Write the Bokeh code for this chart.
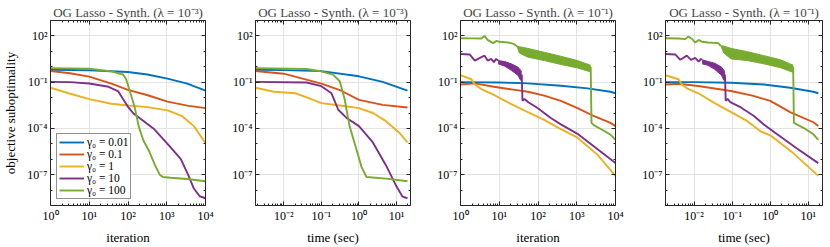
import numpy as np
from bokeh.plotting import figure
from bokeh.layouts import row
from bokeh.models import FixedTicker, LogAxis, CustomJSTickFormatter, Legend, LegendItem
from bokeh.embed import file_html
from bokeh.resources import INLINE

# ---------------- data (log10 of x and of objective suboptimality) ----------------
gamma_labels = ["γ₀ = 0.01", "γ₀ = 0.1", "γ₀ = 1", "γ₀ = 10", "γ₀ = 100"]
colors = ["#0072BD", "#D95319", "#EDB120", "#7E2F8E", "#77AC30"]

titles = ["OG Lasso - Synth. (λ = 10⁻³)", "OG Lasso - Synth. (λ = 10⁻³)",
          "OG Lasso - Synth. (λ = 10⁻¹)", "OG Lasso - Synth. (λ = 10⁻¹)"]
xlabels = ["iteration", "time (sec)", "iteration", "time (sec)"]

# Panel 1: iteration, lambda = 1e-3
p1_blue_lx = [0, 1, 2, 2.5, 3.02, 3.53, 4.0]
p1_blue_ly = [-0.19, -0.23, -0.34, -0.5, -0.77, -1.09, -1.55]
p1_red_lx = [0, 0.5, 1.0, 1.57, 2.0, 2.51, 3.02, 3.53, 4.0]
p1_red_ly = [-0.28, -0.42, -0.64, -1.1, -1.5, -1.85, -2.26, -2.52, -2.68]
p1_orange_lx = [0, 0.47, 1.0, 1.57, 2.0, 2.51, 3.02, 3.4, 3.7, 4.0]
p1_orange_ly = [-1.36, -1.72, -2.1, -2.4, -2.51, -2.62, -2.83, -3.21, -3.85, -4.96]
p1_purple_lx = [0, 0.5, 1.0, 1.5, 1.75, 1.9, 2.0, 2.15, 2.34, 2.68, 3.02, 3.36, 3.55, 3.7, 3.85, 4.0]
p1_purple_ly = [-0.98, -1.0, -1.09, -1.3, -1.6, -2.2, -2.6, -3.05, -3.4, -4.06, -5.0, -5.98, -7.0, -7.9, -8.4, -8.53]
p1_green_lx = [0, 1.0, 1.57, 1.87, 1.95, 2.05, 2.17, 2.28, 2.4, 2.55, 2.7, 2.82, 2.9, 3.1, 3.53, 4.0]
p1_green_ly = [-0.09, -0.13, -0.3, -0.5, -0.8, -1.6, -2.6, -3.9, -4.8, -5.5, -6.4, -7.0, -7.15, -7.2, -7.28, -7.43]

# Panel 2: time, lambda = 1e-3
p2_blue_lx = [-2.75, -2, -1, 0, 0.63, 1.29]
p2_blue_ly = [-0.19, -0.22, -0.28, -0.62, -0.98, -1.55]
p2_red_lx = [-2.75, -2, -1, -0.51, 0, 0.63, 1.29]
p2_red_ly = [-0.28, -0.45, -1.09, -1.51, -2.15, -2.47, -2.64]
p2_orange_lx = [-2.75, -2.26, -1.69, -1.39, -1, -0.51, 0, 0.37, 0.72, 1.07, 1.29]
p2_orange_ly = [-1.36, -1.62, -1.72, -1.98, -2.36, -2.51, -2.68, -3.0, -3.53, -4.28, -4.91]
p2_purple_lx = [-2.75, -1.39, -1, -0.73, -0.55, -0.33, 0, 0.37, 0.72, 0.98, 1.16, 1.29]
p2_purple_ly = [-0.98, -1.02, -1.26, -1.72, -2.79, -3.32, -3.85, -4.91, -6.4, -7.68, -8.43, -8.53]
p2_green_lx = [-2.75, -1.39, -1, -0.69, -0.51, -0.38, -0.25, -0.07, 0.07, 0.2, 0.72, 1.29]
p2_green_ly = [-0.09, -0.15, -0.3, -0.51, -0.94, -2.11, -3.85, -5.34, -6.51, -7.15, -7.26, -7.43]

# Panel 3: iteration, lambda = 1e-1
p3_blue_lx = [0, 1, 1.74, 2.59, 3.28, 3.87, 4.0]
p3_blue_ly = [-1.0, -1.02, -1.08, -1.23, -1.40, -1.62, -1.72]
p3_red_lx = [0, 0.37, 0.86, 1.74, 2.16, 2.59, 3.02, 3.45, 3.87, 4.0]
p3_red_ly = [-1.15, -1.08, -1.3, -1.62, -1.87, -2.21, -2.68, -3.21, -3.64, -3.85]
p3_orange_lx = [0, 0.28, 0.37, 0.54, 0.86, 1.31, 1.74, 2.16, 2.55, 3.02, 3.53, 4.0]
p3_orange_ly = [-0.55, -0.81, -1.15, -1.45, -1.83, -2.42, -2.95, -3.45, -4.0, -4.6, -5.7, -7.08]
p3_purple_pre_lx = [0, 0.24, 0.37, 0.5, 0.62, 0.7, 0.79, 0.86, 0.92, 0.97]
p3_purple_pre_ly = [0.83, 0.79, 0.40, 0.57, 0.72, 0.40, 0.51, 0.30, 0.51, 0.40]
p3_purple_band_lx = [0.97, 1.14, 1.31, 1.48, 1.55, 1.58]
p3_purple_band_hi = [0.40, 0.34, 0.19, -0.02, -0.23, -0.3]
p3_purple_band_lo = [0.19, 0.04, -0.23, -0.55, -0.87, -0.87]
p3_purple_post_lx = [1.58, 1.6, 1.65, 1.75, 1.99, 2.33, 2.59, 3.02, 3.53, 4.0]
p3_purple_post_ly = [-0.5, -2.21, -2.09, -2.3, -2.68, -3.32, -3.74, -4.35, -5.34, -6.25]
p3_green_pre_lx = [0, 0.3, 0.54, 0.62, 0.7, 0.84, 0.93, 1.0, 1.22, 1.3, 1.38, 1.46]
p3_green_pre_ly = [1.85, 1.84, 1.83, 2.0, 1.74, 1.53, 1.68, 1.62, 1.57, 1.53, 1.47, 1.32]
p3_green_band_lx = [1.46, 1.52, 1.74, 2.16, 2.59, 3.02, 3.32, 3.36]
p3_green_band_hi = [1.32, 1.3, 1.19, 0.94, 0.68, 0.40, 0.13, 0.1]
p3_green_band_lo = [1.32, 0.89, 0.62, 0.40, 0.15, -0.08, -0.30, -0.3]
p3_green_post_lx = [3.36, 3.38, 3.45, 3.7, 3.87, 4.0]
p3_green_post_ly = [0.0, -3.64, -3.8, -4.15, -4.4, -4.74]

# Panel 4: time, lambda = 1e-1
p4_blue_lx = [-2.75, -2, -1.03, -0.17, 0.52, 1.13, 1.26]
p4_blue_ly = [-1.0, -1.0, -1.04, -1.15, -1.36, -1.62, -1.72]
p4_red_lx = [-2.75, -2.41, -1.89, -1.03, -0.47, 0, 0.52, 1.13, 1.26]
p4_red_ly = [-1.15, -1.1, -1.25, -1.57, -1.87, -2.21, -2.94, -3.6, -3.85]
p4_orange_lx = [-2.75, -2.41, -2.32, -2.19, -1.89, -1.46, -1.03, -0.6, -0.25, 0.0, 0.6, 1.26]
p4_orange_ly = [-0.55, -0.81, -1.15, -1.4, -1.72, -2.36, -2.94, -3.53, -4.2, -4.45, -5.6, -7.08]
p4_purple_pre_lx = [-2.75, -2.49, -2.36, -2.19, -2.08, -1.97, -1.88, -1.82, -1.79]
p4_purple_pre_ly = [0.83, 0.79, 0.45, 0.72, 0.45, 0.57, 0.34, 0.51, 0.45]
p4_purple_band_lx = [-1.79, -1.63, -1.46, -1.28, -1.22, -1.19]
p4_purple_band_hi = [0.45, 0.34, 0.23, -0.02, -0.23, -0.3]
p4_purple_band_lo = [0.19, 0.09, -0.17, -0.55, -0.87, -0.87]
p4_purple_post_lx = [-1.19, -1.17, -1.12, -1.05, -0.77, -0.42, -0.17, 0.18, 0.7, 1.26]
p4_purple_post_ly = [-0.5, -2.21, -2.09, -2.3, -2.64, -3.21, -3.74, -4.38, -5.3, -6.25]
p4_green_pre_lx = [-2.75, -2.4, -2.23, -2.15, -2.05, -1.97, -1.88, -1.8, -1.63, -1.37, -1.3]
p4_green_pre_ly = [1.85, 1.83, 1.79, 1.96, 1.8, 1.57, 1.74, 1.62, 1.57, 1.53, 1.36]
p4_green_band_lx = [-1.3, -1.22, -1.03, -0.6, -0.17, 0.27, 0.57, 0.6]
p4_green_band_hi = [1.36, 1.34, 1.19, 0.98, 0.72, 0.45, 0.13, 0.1]
p4_green_band_lo = [1.36, 0.89, 0.51, 0.40, 0.19, -0.06, -0.34, -0.34]
p4_green_post_lx = [0.6, 0.62, 0.87, 1.13, 1.26]
p4_green_post_ly = [0.0, -3.64, -3.96, -4.38, -4.74]

# axis tick positions
y_major_exp = [2, -1, -4, -7]
iter_major_exp = [0, 1, 2, 3, 4]
time_major_exp = [-2, -1, 0, 1]

# ---------------- helpers ----------------
def P(a):
    return np.power(10.0, np.asarray(a, dtype=float))

FONT = '"Liberation Serif", "Times New Roman", serif'
AXIS_COLOR = "#262626"
GRID_COLOR = "#e3e3e3"

sup_fmt = CustomJSTickFormatter(code="""
const sup = {"-":"\u207b","0":"\u2070","1":"\u00b9","2":"\u00b2","3":"\u00b3","4":"\u2074",
             "5":"\u2075","6":"\u2076","7":"\u2077","8":"\u2078","9":"\u2079"};
const e = Math.round(Math.log10(tick));
return "10" + String(e).split("").map(c => sup[c]).join("");
""")
blank_fmt = CustomJSTickFormatter(code="return '';")

def minor_ticks(d0, d1):
    return [k * 10.0 ** d for d in range(d0, d1) for k in range(2, 10)]

def style_axis(ax, labels=True):
    ax.axis_line_color = AXIS_COLOR
    ax.major_tick_line_color = AXIS_COLOR
    ax.minor_tick_line_color = AXIS_COLOR
    ax.major_tick_in = 4
    ax.major_tick_out = 0
    ax.minor_tick_in = 2
    ax.minor_tick_out = 0
    ax.major_label_text_font = FONT
    ax.major_label_text_font_size = "12px"
    ax.major_label_text_color = "black"
    ax.major_label_standoff = 3
    ax.axis_label_text_font = FONT
    ax.axis_label_text_font_size = "13px"
    ax.axis_label_text_font_style = "normal"
    ax.axis_label_text_color = "black"
    ax.axis_label_standoff = 4
    if not labels:
        ax.formatter = blank_fmt

def make_fig(idx, width, bl, br, x_range, xmaj, xmin, ylabel=None):
    p = figure(width=width, height=247, x_axis_type="log", y_axis_type="log",
               x_range=x_range, y_range=(1e-9, 1e3),
               output_backend="svg", toolbar_location=None,
               min_border_left=bl, min_border_right=br,
               min_border_top=20, min_border_bottom=40)
    p.title.text = titles[idx]
    p.title.text_font = FONT
    p.title.text_font_size = "13px"
    p.title.text_font_style = "normal"
    p.title.align = "center"
    p.title.standoff = 1
    p.title.offset = 0
    p.outline_line_color = None
    p.background_fill_color = "white"
    xt = FixedTicker(ticks=list(P(xmaj)), minor_ticks=xmin)
    yt = FixedTicker(ticks=list(P(y_major_exp)), minor_ticks=list(P(list(range(-9, 4)))))
    p.xaxis.ticker = xt
    p.yaxis.ticker = yt
    p.xaxis.formatter = sup_fmt
    p.yaxis.formatter = sup_fmt
    p.xaxis.axis_label = xlabels[idx]
    if ylabel:
        p.yaxis.axis_label = ylabel
    style_axis(p.xaxis[0])
    style_axis(p.yaxis[0])
    if ylabel:
        p.yaxis.axis_label_standoff = 6
    top = LogAxis(ticker=xt)
    right = LogAxis(ticker=yt)
    style_axis(top, labels=False)
    style_axis(right, labels=False)
    top.major_label_standoff = 0
    right.major_label_standoff = 0
    p.add_layout(top, "above")
    p.add_layout(right, "right")
    p.xgrid.ticker = xt
    p.ygrid.ticker = yt
    p.xgrid.grid_line_color = GRID_COLOR
    p.ygrid.grid_line_color = GRID_COLOR
    p.xgrid.minor_grid_line_color = None
    p.ygrid.minor_grid_line_color = None
    return p

LW = 1.9
iter_range = (1.0, 1e4)
time_range = (10 ** -2.75, 10 ** 1.37)
iter_minor = minor_ticks(0, 4)
time_minor = [t for t in minor_ticks(-3, 2) if time_range[0] <= t <= time_range[1]]

figs = []

# Panel 1
p1 = make_fig(0, 229, 48, 24, iter_range, iter_major_exp, iter_minor, "objective suboptimality")
series1 = [(p1_blue_lx, p1_blue_ly), (p1_red_lx, p1_red_ly), (p1_orange_lx, p1_orange_ly),
           (p1_purple_lx, p1_purple_ly), (p1_green_lx, p1_green_ly)]
rs = []
for (lx, ly), c in zip(series1, colors):
    rs.append(p1.line(P(lx), P(ly), line_color=c, line_width=LW))
legend = Legend(items=[LegendItem(label=l, renderers=[r]) for l, r in zip(gamma_labels, rs)],
                location="bottom_left")
legend.label_text_font = FONT
legend.label_text_font_size = "11.5px"
legend.label_text_color = "black"
legend.border_line_color = AXIS_COLOR
legend.border_line_width = 1
legend.background_fill_alpha = 1.0
legend.glyph_width = 25
legend.glyph_height = 12
legend.label_height = 12
legend.label_standoff = 3
legend.spacing = 0
legend.padding = 2
legend.margin = 6
p1.add_layout(legend)
figs.append(p1)

# Panel 2
p2 = make_fig(1, 205, 24, 24, time_range, time_major_exp, time_minor)
series2 = [(p2_blue_lx, p2_blue_ly), (p2_red_lx, p2_red_ly), (p2_orange_lx, p2_orange_ly),
           (p2_purple_lx, p2_purple_ly), (p2_green_lx, p2_green_ly)]
for (lx, ly), c in zip(series2, colors):
    p2.line(P(lx), P(ly), line_color=c, line_width=LW)
figs.append(p2)

def banded(p, pre_x, pre_y, bx, bhi, blo, post_x, post_y, c):
    p.line(P(pre_x), P(pre_y), line_color=c, line_width=LW)
    p.varea(x=P(bx), y1=P(blo), y2=P(bhi), fill_color=c)
    p.line(P(bx), P(bhi), line_color=c, line_width=1)
    p.line(P(bx), P(blo), line_color=c, line_width=1)
    p.line(P(post_x), P(post_y), line_color=c, line_width=LW)

# Panel 3
p3 = make_fig(2, 205, 25, 24, iter_range, iter_major_exp, iter_minor)
for (lx, ly), c in zip([(p3_blue_lx, p3_blue_ly), (p3_red_lx, p3_red_ly), (p3_orange_lx, p3_orange_ly)], colors[:3]):
    p3.line(P(lx), P(ly), line_color=c, line_width=LW)
banded(p3, p3_purple_pre_lx, p3_purple_pre_ly, p3_purple_band_lx, p3_purple_band_hi, p3_purple_band_lo,
       p3_purple_post_lx, p3_purple_post_ly, colors[3])
banded(p3, p3_green_pre_lx, p3_green_pre_ly, p3_green_band_lx, p3_green_band_hi, p3_green_band_lo,
       p3_green_post_lx, p3_green_post_ly, colors[4])
figs.append(p3)

# Panel 4
p4 = make_fig(3, 190, 25, 7, time_range, time_major_exp, time_minor)
for (lx, ly), c in zip([(p4_blue_lx, p4_blue_ly), (p4_red_lx, p4_red_ly), (p4_orange_lx, p4_orange_ly)], colors[:3]):
    p4.line(P(lx), P(ly), line_color=c, line_width=LW)
banded(p4, p4_purple_pre_lx, p4_purple_pre_ly, p4_purple_band_lx, p4_purple_band_hi, p4_purple_band_lo,
       p4_purple_post_lx, p4_purple_post_ly, colors[3])
banded(p4, p4_green_pre_lx, p4_green_pre_ly, p4_green_band_lx, p4_green_band_hi, p4_green_band_lo,
       p4_green_post_lx, p4_green_post_ly, colors[4])
figs.append(p4)

layout = row(*figs, spacing=0)
open("out.html", "w").write(file_html(layout, INLINE))
